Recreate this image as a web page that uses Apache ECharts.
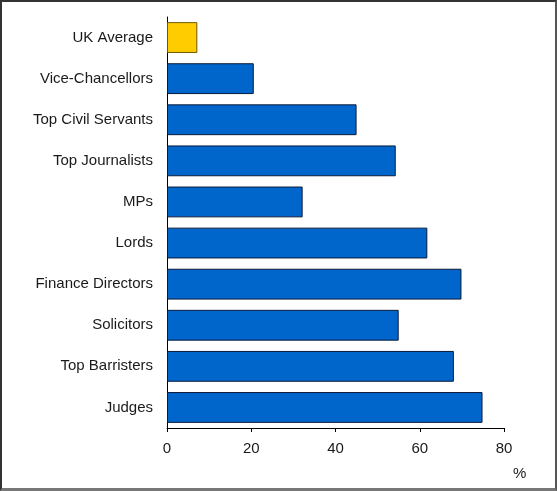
<!doctype html>
<html lang="en">
<head>
    <meta charset="UTF-8" />
    <title>chart</title>
    <script src="https://cdn.jsdelivr.net/npm/echarts@6/dist/echarts.min.js"></script>
    <style>
        html, body { margin: 0; padding: 0; background: #fff; }
        #main {
            width: 557px; height: 491px; box-sizing: border-box;
            border-top: 2px solid #333; border-left: 2px solid #333;
            border-right: 2px solid #555; border-bottom: 3px solid #777;
        }
    </style>
</head>
<body>
    <div id="main"></div>
    <script type="text/javascript">
        var categories = ['UK Average', 'Vice-Chancellors', 'Top Civil Servants', 'Top Journalists', 'MPs',
            'Lords', 'Finance Directors', 'Solicitors', 'Top Barristers', 'Judges'];
        var values = [7.2, 20.6, 45.0, 54.3, 32.2, 61.8, 69.9, 55.0, 68.1, 74.9];
        var xTicks = [0, 20, 40, 60, 80];

        var chart = echarts.init(document.getElementById('main'));

        var barData = [];
        for (var i = 0; i < values.length; i++) {
            var highlight = categories[i] == 'UK Average';
            barData.push({
                value: values[i],
                itemStyle: {
                    color: highlight ? '#ffcc00' : '#0066cc',
                    borderColor: highlight ? '#6b5a00' : '#0a1a3a',
                    borderWidth: 1
                }
            });
        }

        var option = {
            animation: false,
            textStyle: { fontFamily: 'Liberation Sans, Arial, sans-serif' },
            grid: { left: 165, right: 51, top: 15, bottom: 60, containLabel: false },
            xAxis: {
                type: 'value',
                min: xTicks[0],
                max: xTicks[xTicks.length - 1],
                interval: 20,
                splitLine: { show: false },
                axisLine: { show: true, lineStyle: { color: '#000', width: 1 } },
                axisTick: { show: true, length: 4, lineStyle: { color: '#000' } },
                axisLabel: { color: '#1a1a1a', fontSize: 15, margin: 13 }
            },
            yAxis: {
                type: 'category',
                data: categories,
                inverse: true,
                axisLine: { show: true, lineStyle: { color: '#000', width: 1 } },
                axisTick: { show: false },
                axisLabel: { color: '#1a1a1a', fontSize: 15, margin: 14 }
            },
            graphic: [{
                type: 'text',
                left: 511,
                top: 464,
                style: { text: '%', fontSize: 15, fill: '#1a1a1a', fontFamily: 'Liberation Sans, Arial, sans-serif' }
            }],
            series: [{
                type: 'bar',
                data: barData,
                barCategoryGap: '25%'
            }]
        };

        chart.setOption(option);
    </script>
</body>
</html>
